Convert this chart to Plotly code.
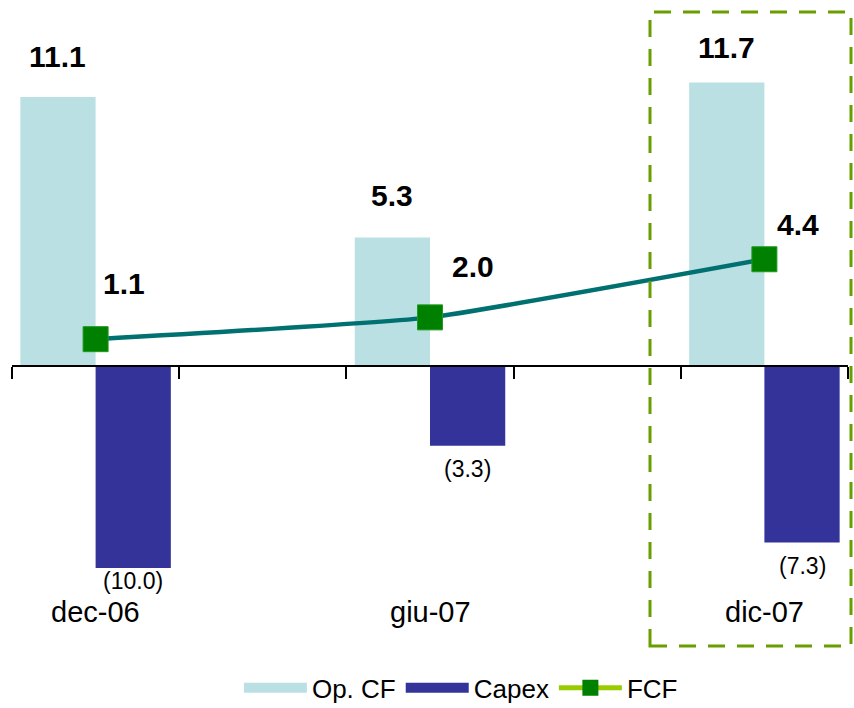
import plotly.graph_objects as go

# ---------------- data ----------------
categories = ["dec-06", "giu-07", "dic-07"]
op_cf = [11.1, 5.3, 11.7]
capex = [-10.0, -3.3, -7.3]
fcf = [1.1, 2.0, 4.4]

# ---------------- styling ----------------
C_OPCF = "#BBE0E3"
C_CAPEX = "#333399"
C_FCF_LINE = "#007070"
C_FCF_MARK = "#008000"
C_FCF_LEG = "#99CC00"
C_BOX = "#6A9E00"

FONT = "Liberation Sans, Arial, sans-serif"

Y_MIN, Y_MAX = -8.35, 14.9
X_MIN, X_MAX = -0.25, 2.25

x = list(range(len(categories)))
BARGAP = 0.55
half = (1 - BARGAP) / 4  # offset of each bar centre from category centre

fig = go.Figure()
fig.add_trace(go.Bar(x=x, y=op_cf, name="Op. CF", showlegend=False,
                     marker=dict(color=C_OPCF, line_width=0)))
fig.add_trace(go.Bar(x=x, y=capex, name="Capex", showlegend=False,
                     marker=dict(color=C_CAPEX, line_width=0)))
fig.add_trace(go.Scatter(x=x, y=fcf, name="FCF", mode="lines+markers", showlegend=False,
                         cliponaxis=False,
                         line=dict(color=C_FCF_LINE, width=4.5, shape="spline", smoothing=0.4),
                         marker=dict(symbol="square", size=25, color=C_FCF_MARK,
                                     line=dict(color="#1E9A1E", width=1))))

# legend entries
fig.add_trace(go.Scatter(x=[None], y=[None], mode="lines", name="Op. CF",
                         line=dict(color=C_OPCF, width=24)))
fig.add_trace(go.Scatter(x=[None], y=[None], mode="lines", name="Capex",
                         line=dict(color=C_CAPEX, width=24)))
fig.add_trace(go.Scatter(x=[None], y=[None], mode="lines+markers", name="FCF",
                         line=dict(color=C_FCF_LEG, width=5),
                         marker=dict(symbol="square", size=22, color=C_FCF_MARK)))

ann = []
# Op. CF labels
opcf_dy = [41, 42, 35]
for i, v in enumerate(op_cf):
    ann.append(dict(x=i - half, y=v, xref="x", yref="y", text=f"<b>{v:.1f}</b>",
                    showarrow=False, yanchor="middle", yshift=opcf_dy[i],
                    font=dict(family=FONT, size=30, color="#000")))
# FCF labels
fcf_dx = [28, 43, 34]
fcf_dy = [56, 51, 35]
for i, v in enumerate(fcf):
    ann.append(dict(x=i, y=v, xref="x", yref="y", text=f"<b>{v:.1f}</b>",
                    showarrow=False, yanchor="middle", xshift=fcf_dx[i], yshift=fcf_dy[i],
                    font=dict(family=FONT, size=30, color="#000")))
# Capex labels (below bar end, clamped to plot bottom)
for i, v in enumerate(capex):
    inside = v > Y_MIN
    ann.append(dict(x=i + half, y=max(v, Y_MIN), xref="x", yref="y", text=f"({abs(v):.1f})",
                    showarrow=False, yanchor="middle", yshift=-23 if inside else -13,
                    font=dict(family=FONT, size=23, color="#000")))
# category labels
for i, c in enumerate(categories):
    ann.append(dict(x=i, y=-0.078, xref="x", yref="paper", text=c, showarrow=False,
                    yanchor="middle", font=dict(family=FONT, size=29, color="#000")))

tickvals = sorted({i + d for i in x for d in (-0.25, 0.25)})

fig.update_layout(
    width=854, height=708,
    margin=dict(l=12, r=6, t=5, b=140, autoexpand=False),
    paper_bgcolor="white", plot_bgcolor="white",
    barmode="group", bargap=BARGAP, bargroupgap=0,
    annotations=ann,
    showlegend=True,
    legend=dict(orientation="h", x=0.537, xanchor="center", y=-0.213, yanchor="middle",
                font=dict(family=FONT, size=26, color="#000"), itemwidth=63,
                bgcolor="rgba(0,0,0,0)"),
    xaxis=dict(range=[X_MIN, X_MAX], tickvals=tickvals, showticklabels=False,
               ticks="outside", ticklen=12, tickwidth=2, tickcolor="#000",
               showline=True, linecolor="#000", linewidth=2, showgrid=False, zeroline=False,
               anchor="free", position=(0 - Y_MIN) / (Y_MAX - Y_MIN), layer="above traces"),
    yaxis=dict(range=[Y_MIN, Y_MAX], visible=False, showgrid=False, zeroline=False),
    shapes=[dict(type="rect", xref="paper", yref="paper",
                 x0=(650 - 12) / 836, x1=(851 - 12) / 836,
                 y0=(568 - 646) / 563, y1=(568 - 12) / 563,
                 line=dict(color=C_BOX, width=3, dash="17px,12px"),
                 fillcolor="rgba(0,0,0,0)", layer="above")],
)

fig.write_html("out.html")
